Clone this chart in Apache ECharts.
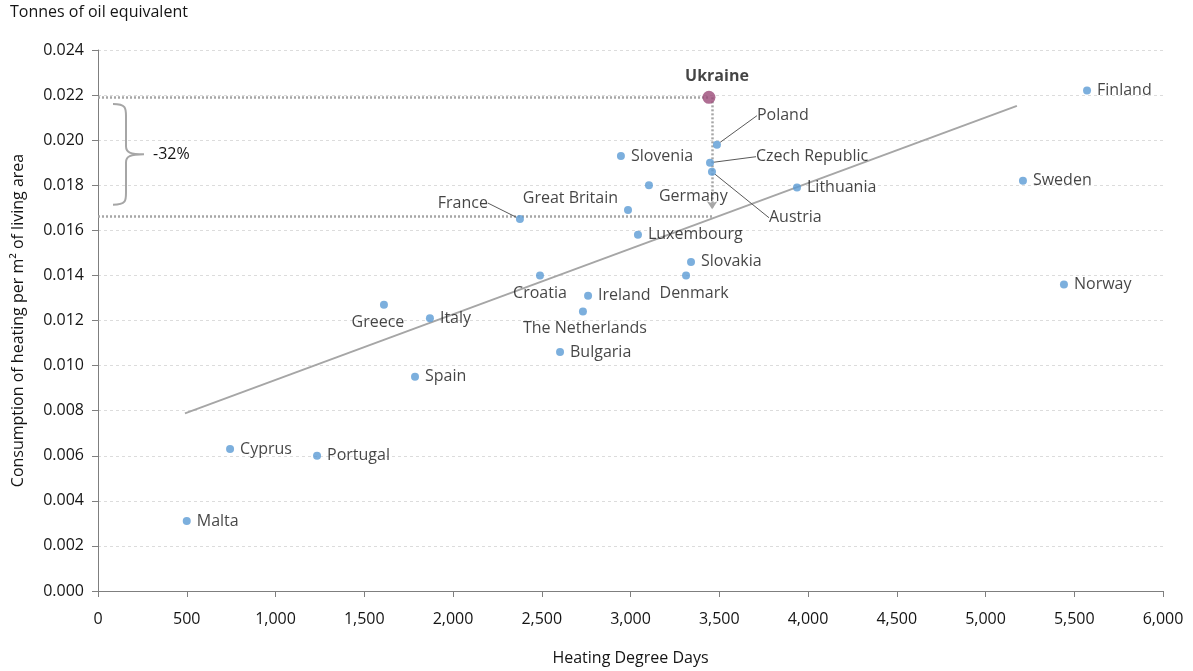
<!DOCTYPE html>
<html>
<head>
<meta charset="utf-8">
<script src="https://cdn.jsdelivr.net/npm/echarts@6/dist/echarts.min.js"></script>
<style>
  html, body { margin: 0; padding: 0; background: #fff; }
  #chart { width: 1193px; height: 671px; }
</style>
</head>
<body>
<div id="chart"></div>
<script>
// countries, heating degree days and consumption (toe per m2)
const countries = ['Malta', 'Cyprus', 'Portugal', 'Spain', 'Greece', 'Italy', 'Croatia', 'Bulgaria',
  'The Netherlands', 'Ireland', 'France', 'Great Britain', 'Luxembourg', 'Germany', 'Slovenia',
  'Denmark', 'Slovakia', 'Poland', 'Czech Republic', 'Austria', 'Lithuania', 'Sweden', 'Norway', 'Finland']
const degreeDays = [500, 744, 1234, 1786, 1611, 1870, 2490, 2603,
  2732, 2761, 2377, 2986, 3042, 3104, 2946,
  3313, 3341, 3487, 3448, 3459, 3938, 5211, 5442, 5572]
const consumption = [0.0031, 0.0063, 0.0060, 0.0095, 0.0127, 0.0121, 0.0140, 0.0106,
  0.0124, 0.0131, 0.0165, 0.0169, 0.0158, 0.0180, 0.0193,
  0.0140, 0.0146, 0.0198, 0.0190, 0.0186, 0.0179, 0.0182, 0.0136, 0.0222]

const ukraine = [3442, 0.0219]
const ukraineLevelOnTrend = 0.01664
const trendStart = [490, 0.00788]
const trendEnd = [5177, 0.02152]
const braceTop = 0.0216
const braceBottom = 0.01714
const braceLabel = '-32%'

const xTicks = { min: 0, max: 6000, interval: 500 }
const yTicks = { min: 0, max: 0.024, interval: 0.002 }

// where each label sits relative to its point (pixel nudges)
const labelPlace = {
  'Greece': { position: 'bottom', move: [-6, 0] },
  'Croatia': { position: 'bottom', move: [0, 0] },
  'The Netherlands': { position: 'bottom', move: [2, -1] },
  'Denmark': { position: 'bottom', move: [8, 0] },
  'Germany': { position: 'right', move: [0, 11] },
  'Great Britain': { position: 'left', move: [0, -12] },
  'France': { position: 'left', move: [-22, -16], leader: true },
  'Poland': { position: 'right', move: [30, -29], leader: true },
  'Czech Republic': { position: 'right', move: [36, -6], leader: true },
  'Austria': { position: 'right', move: [47, 46], leader: true },
}

const textColor = '#151515'
const axisColor = '#7f7f7f'
const gridColor = '#dcdcdc'
const font = 'Open Sans, Noto Sans, sans-serif'

const points = countries.map((name, i) => {
  const place = labelPlace[name] || { position: 'right' }
  const item = {
    name,
    value: [degreeDays[i], consumption[i]],
    label: { position: place.position },
  }
  if (place.leader) {
    item.labelLine = { show: true }
  }
  return item
})

const chart = echarts.init(document.getElementById('chart'))

chart.setOption({
  animation: false,
  backgroundColor: '#fff',
  textStyle: { fontFamily: font },
  grid: { left: 98, right: 30, top: 50, bottom: 79 },
  graphic: [{
    type: 'text',
    left: 10,
    top: 4,
    style: { text: 'Tonnes of oil equivalent', fill: textColor, font: '16px ' + font },
  }],
  xAxis: {
    type: 'value',
    ...xTicks,
    name: 'Heating Degree Days',
    nameLocation: 'middle',
    nameGap: 59,
    nameTextStyle: { color: textColor, fontSize: 16 },
    axisLine: { show: true, lineStyle: { color: axisColor } },
    axisTick: { show: true, length: 6, lineStyle: { color: axisColor } },
    axisLabel: { color: textColor, fontSize: 16, margin: 20, formatter: (v) => v.toLocaleString('en-US') },
    splitLine: { show: false },
  },
  yAxis: {
    type: 'value',
    ...yTicks,
    name: 'Consumption of heating per m² of living area',
    nameLocation: 'middle',
    nameGap: 72,
    nameTextStyle: { color: textColor, fontSize: 16 },
    axisLine: { show: true, lineStyle: { color: axisColor } },
    axisTick: { show: true, length: 6, lineStyle: { color: axisColor } },
    axisLabel: { color: textColor, fontSize: 16, margin: 14, formatter: (v) => v.toFixed(3) },
    splitLine: { show: true, lineStyle: { color: gridColor, type: [3, 3] } },
  },
  series: [
    {
      type: 'line',
      data: [trendStart, trendEnd],
      symbol: 'none',
      lineStyle: { color: '#a6a6a6', width: 2 },
      z: 2,
      silent: true,
    },
    {
      type: 'line',
      data: [],
      silent: true,
      markLine: {
        silent: true,
        symbol: ['none', 'none'],
        label: { show: false },
        lineStyle: { color: '#a6a6a6', type: [2, 2], width: 2.5 },
        data: [
          [{ coord: [0, ukraine[1]] }, { coord: ukraine }],
          [{ coord: [0, ukraineLevelOnTrend] }, { coord: [ukraine[0] + 18, ukraineLevelOnTrend] }],
          [{ coord: [ukraine[0] + 18, ukraine[1]], symbol: 'none' },
           { coord: [ukraine[0] + 18, ukraineLevelOnTrend + 0.0003], symbol: 'arrow', symbolSize: [8, 8] }],
        ],
      },
    },
    {
      type: 'custom',
      silent: true,
      data: [[0, braceTop, braceBottom]],
      renderItem: (params, api) => {
        const top = api.coord([api.value(0), api.value(1)])
        const bottom = api.coord([api.value(0), api.value(2)])
        const x0 = top[0] + 15
        const y0 = top[1]
        const y1 = bottom[1]
        const mid = (y0 + y1) / 2
        const xs = x0 + 13
        const tip = x0 + 31
        const d = `M${x0},${y0} C${xs},${y0} ${xs},${y0 + 4} ${xs},${y0 + 12} L${xs},${mid - 8} ` +
          `C${xs},${mid - 2} ${xs + 4},${mid} ${tip},${mid} ` +
          `M${tip},${mid} C${xs + 4},${mid} ${xs},${mid + 2} ${xs},${mid + 8} L${xs},${y1 - 12} ` +
          `C${xs},${y1 - 4} ${xs},${y1} ${x0},${y1}`
        return {
          type: 'group',
          children: [
            { type: 'path', shape: { pathData: d }, style: { stroke: '#a6a6a6', lineWidth: 2, fill: 'none' } },
            { type: 'text', x: tip + 9, y: mid, style: { text: braceLabel, fill: textColor, font: '16px ' + font, verticalAlign: 'middle' } },
          ],
        }
      },
    },
    {
      type: 'scatter',
      data: points,
      symbolSize: 8,
      itemStyle: { color: '#5b9bd5' },
      z: 5,
      label: {
        show: true,
        formatter: '{b}',
        color: textColor,
        fontSize: 16,
        distance: 6,
      },
      labelLine: { lineStyle: { color: '#595959', width: 1 } },
      labelLayout: (params) => {
        const place = labelPlace[countries[params.dataIndex]]
        if (place && place.move) {
          return { dx: place.move[0], dy: place.move[1] }
        }
        return {}
      },
    },
    {
      type: 'scatter',
      data: [{ name: 'Ukraine', value: ukraine }],
      symbolSize: 13,
      itemStyle: { color: '#9b4a78' },
      z: 6,
      label: {
        show: true,
        position: 'top',
        formatter: '{b}',
        offset: [8, -1],
        color: textColor,
        fontSize: 16,
        fontWeight: 'bold',
      },
    },
  ],
})
</script>
</body>
</html>
